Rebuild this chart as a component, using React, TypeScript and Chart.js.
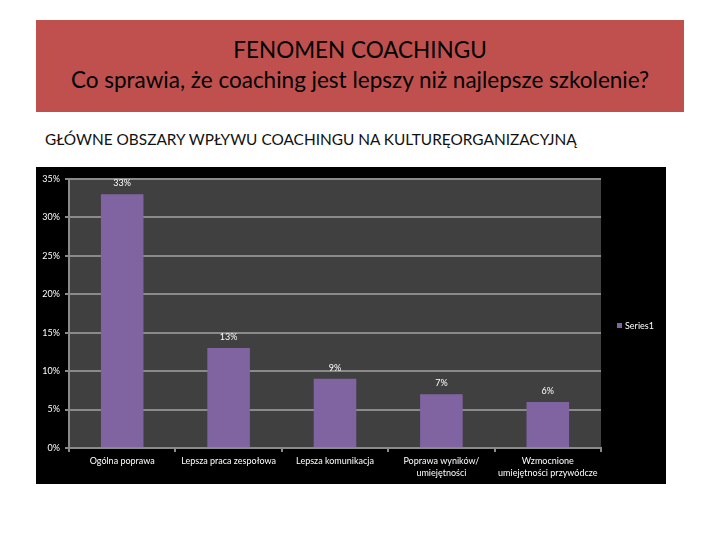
import React, { useEffect, useRef } from "react";
import { Chart, registerables } from "chart.js";

Chart.register(...registerables);

const title1 = "FENOMEN COACHINGU";
const title2 = "Co sprawia, że coaching jest lepszy niż najlepsze szkolenie?";
const subtitle = "GŁÓWNE OBSZARY WPŁYWU COACHINGU NA KULTURĘORGANIZACYJNĄ";

const categories: (string | string[])[] = [
  "Ogólna poprawa",
  "Lepsza praca zespołowa",
  "Lepsza komunikacja",
  ["Poprawa wyników/", "umiejętności"],
  ["Wzmocnione", "umiejętności przywódcze"],
];
const seriesName = "Series1";
const values = [33, 13, 9, 7, 6];
const yMin = 0;
const yMax = 35;
const yStep = 5;

const FONT = "Lato, 'DejaVu Sans', sans-serif";
const BAR = "#8064A2";
const GRID = "#8a8a8a";

export default function App() {
  const ref = useRef<HTMLCanvasElement>(null);

  useEffect(() => {
    document.body.style.margin = "0";
    const plotBg = {
      id: "plotBg",
      beforeDraw(chart: any) {
        const { ctx, chartArea: a } = chart;
        ctx.save();
        ctx.fillStyle = "#404040";
        ctx.fillRect(a.left, a.top, a.right - a.left, a.bottom - a.top);
        ctx.restore();
      },
    };
    const labels = {
      id: "valueLabels",
      afterDatasetsDraw(chart: any) {
        const { ctx } = chart;
        const meta = chart.getDatasetMeta(0);
        ctx.save();
        ctx.fillStyle = "#ffffff";
        ctx.font = `9px ${FONT}`;
        ctx.textAlign = "center";
        ctx.textBaseline = "middle";
        meta.data.forEach((el: any, i: number) => {
          ctx.fillText(`${chart.data.datasets[0].data[i]}%`, el.x, el.y - 11);
        });
        ctx.restore();
      },
    };
    const legend = {
      id: "customLegend",
      afterDraw(chart: any) {
        const { ctx } = chart;
        ctx.save();
        ctx.fillStyle = BAR;
        ctx.fillRect(581, 156, 5, 5);
        ctx.fillStyle = "#ffffff";
        ctx.font = `9px ${FONT}`;
        ctx.textAlign = "left";
        ctx.textBaseline = "middle";
        ctx.fillText(chart.data.datasets[0].label, 589, 159);
        ctx.restore();
      },
    };

    const chart = new Chart(ref.current!, {
      type: "bar",
      data: {
        labels: categories,
        datasets: [
          {
            label: seriesName,
            data: values,
            backgroundColor: BAR,
            borderWidth: 0,
            barPercentage: 0.4,
            categoryPercentage: 1,
          },
        ],
      },
      options: {
        animation: false,
        responsive: false,
        layout: { padding: { left: 0, top: 12, right: 65, bottom: 0 } },
        plugins: {
          legend: { display: false },
          tooltip: { enabled: false },
        },
        scales: {
          x: {
            afterFit(scale: any) {
              scale.height = 36;
            },
            grid: {
              display: true,
              drawOnChartArea: false,
              drawTicks: true,
              tickLength: 4,
              color: GRID,
              lineWidth: 2,
              offset: true,
            },
            border: { display: true, color: GRID, width: 2 },
            ticks: {
              color: "#ffffff",
              font: { family: FONT, size: 9, lineHeight: 1.35 },
              padding: 3,
              maxRotation: 0,
              autoSkip: false,
            },
          },
          y: {
            min: yMin,
            max: yMax,
            afterFit(scale: any) {
              scale.width = 33;
            },
            grid: {
              color: GRID,
              lineWidth: 2,
              drawTicks: true,
              tickLength: 4,
            },
            border: { display: true, color: GRID, width: 2 },
            ticks: {
              stepSize: yStep,
              color: "#ffffff",
              font: { family: FONT, size: 9 },
              padding: 5,
              callback: (v: any) => `${v}%`,
            },
          },
        },
      },
      plugins: [plotBg, labels, legend],
    });
    return () => chart.destroy();
  }, []);

  return (
    <div style={{ position: "absolute", left: 0, top: 0, width: 720, height: 540, background: "#fff" }}>
      <div
        style={{
          position: "absolute",
          left: 36,
          top: 20,
          width: 648,
          height: 92,
          background: "#C0504D",
          color: "#000",
          fontFamily: FONT,
          fontSize: 22.5,
          textAlign: "center",
          lineHeight: "30px",
          paddingTop: 15,
          boxSizing: "border-box",
        }}
      >
        <div>{title1}</div>
        <div>{title2}</div>
      </div>
      <div
        style={{
          position: "absolute",
          left: 45,
          top: 130,
          fontFamily: FONT,
          fontSize: 15.4,
          color: "#111",
          whiteSpace: "nowrap",
        }}
      >
        {subtitle}
      </div>
      <div style={{ position: "absolute", left: 36, top: 167, width: 630, height: 317, background: "#000" }}>
        <canvas ref={ref} width={630} height={317} />
      </div>
    </div>
  );
}
